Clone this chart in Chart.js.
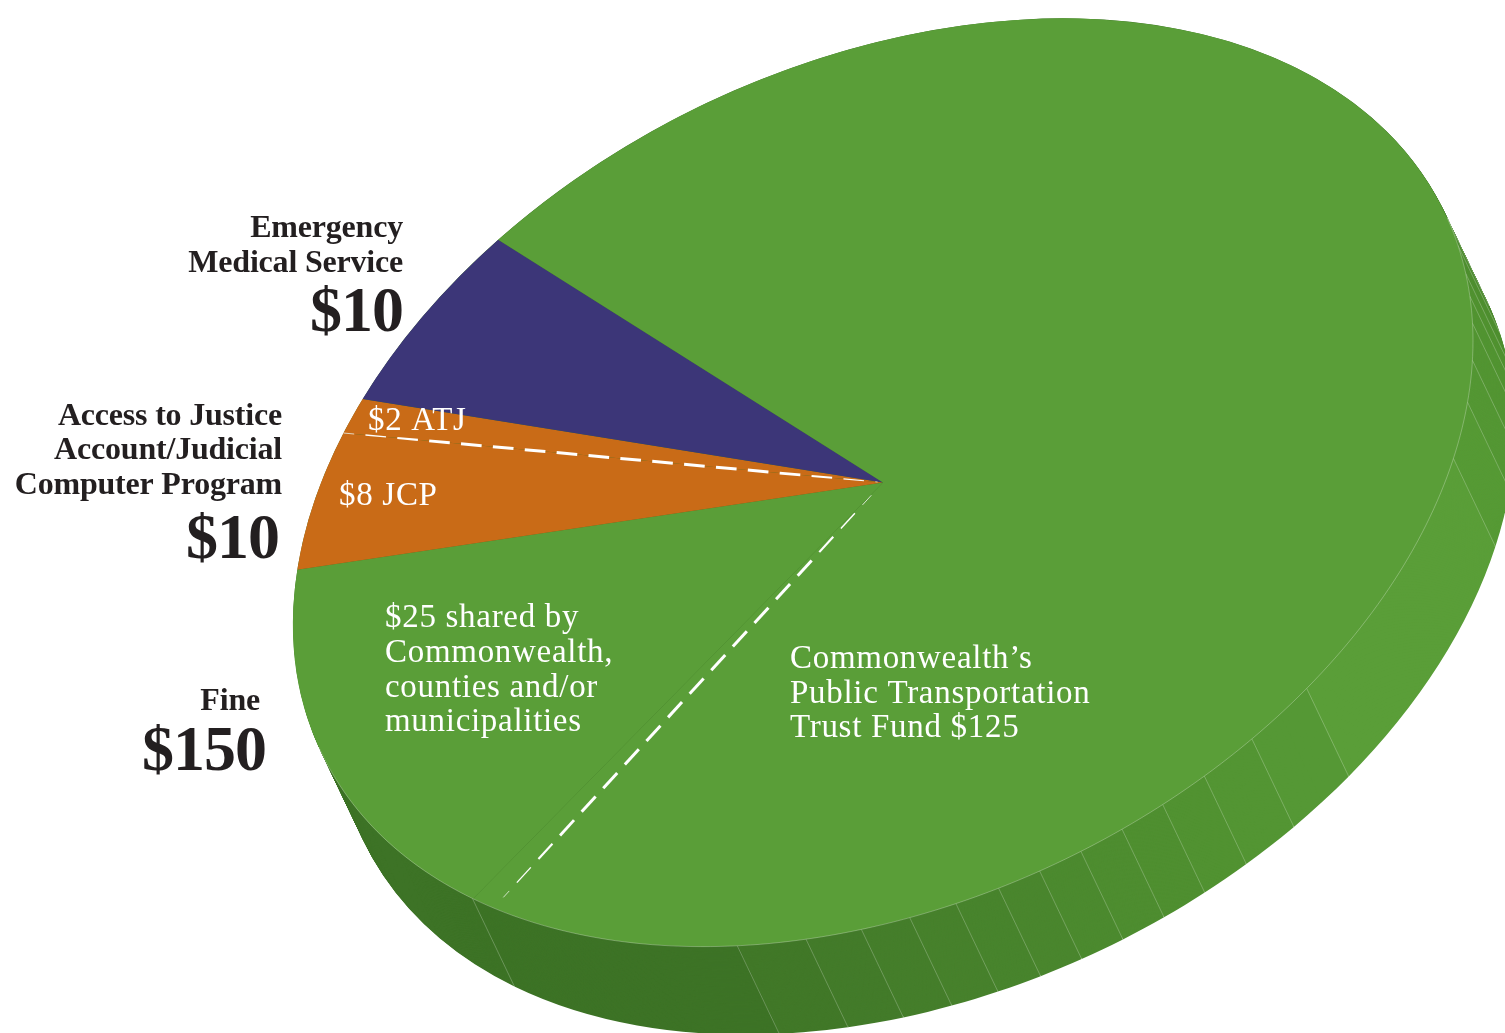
<!DOCTYPE html>
<html>
<head>
<meta charset="utf-8">
<title>Fine breakdown</title>
<script src="https://cdn.jsdelivr.net/npm/chart.js@4"></script>
<style>
  html, body { margin: 0; padding: 0; background: #fff; overflow: hidden; }
  #wrap { position: relative; width: 1505px; height: 1033px; overflow: hidden; }
  canvas { position: absolute; left: 0; top: 0; }
</style>
</head>
<body>
<div id="wrap">
  <canvas id="side" width="1505" height="1033"></canvas>
  <canvas id="top" width="1505" height="1033"></canvas>
</div>
<script>
// Slices, clockwise from the $25 share
const sliceNames = ["Shared by Commonwealth, counties and/or municipalities", "JCP", "ATJ", "Emergency Medical Service", "Public Transportation Trust Fund"];
const sliceValues = [25, 8, 2, 10, 125];
const sliceColors = ["#5a9e38", "#c96b17", "#c96b17", "#3c3678", "#5a9e38"];

// Rim facets: width of each one in degrees, and its shade
const facetWidths = [4, 4, 3.1, 3.6, 4.8, 5.3, 7, 29.3, 7.2, 5.7, 4.7, 4.4, 4.3, 4.2, 4.1, 4.2, 4.5, 4.7, 5.4, 6.8, 29.8, 208.9];
const facetColors = ["#4d8b2f", "#4f8f30", "#519231", "#529432", "#539533", "#549734", "#569a35", "#5a9e38", "#559835", "#539533", "#519231", "#4f8f30", "#4e8d30", "#4c8a2f", "#4a862e", "#48842d", "#47812c", "#457e2b", "#437b2a", "#417828", "#3d7326", "#3d7326"];

// Tilted ellipse the round pie is pressed into
const CX = 883, CY = 482.5;
const AXIS_XX = 590, AXIS_YX = -141.6, AXIS_YY = 442;
const DEPTH_X = 42, DEPTH_Y = 88;
const START_ANGLE = 134;
const FACET_START = -17;
const RIM_LINE_END = 163;
const DASH_ANGLE_FINE = 131.3;

const darkText = "#231f20";
const labels = [
  { text: "Emergency", x: 403, y: 237, size: 32, spacing: -0.2, color: darkText, bold: true, right: true },
  { text: "Medical Service", x: 403, y: 272, size: 32, spacing: -0.2, color: darkText, bold: true, right: true },
  { text: "$10", x: 403, y: 331, size: 64, spacing: -1, color: darkText, bold: true, right: true },
  { text: "Access to Justice", x: 282, y: 425, size: 32, spacing: -0.2, color: darkText, bold: true, right: true },
  { text: "Account/Judicial", x: 282, y: 459, size: 32, spacing: -0.2, color: darkText, bold: true, right: true },
  { text: "Computer Program", x: 282, y: 494, size: 32, spacing: -0.2, color: darkText, bold: true, right: true },
  { text: "$10", x: 279, y: 558, size: 64, spacing: -1, color: darkText, bold: true, right: true },
  { text: "Fine", x: 260, y: 710, size: 32, spacing: -0.2, color: darkText, bold: true, right: true },
  { text: "$150", x: 266, y: 770, size: 64, spacing: -1, color: darkText, bold: true, right: true },
  { text: "$2 ATJ", x: 368, y: 430, size: 33, spacing: 0.7, color: "#fff" },
  { text: "$8 JCP", x: 339, y: 505, size: 33, spacing: 0.7, color: "#fff" },
  { text: "$25 shared by", x: 385, y: 627, size: 33, spacing: 0.7, color: "#fff" },
  { text: "Commonwealth,", x: 385, y: 662, size: 33, spacing: 0.7, color: "#fff" },
  { text: "counties and/or", x: 385, y: 697, size: 33, spacing: 0.7, color: "#fff" },
  { text: "municipalities", x: 385, y: 731, size: 33, spacing: 0.7, color: "#fff" },
  { text: "Commonwealth\u2019s", x: 790, y: 668, size: 33, spacing: 0.7, color: "#fff" },
  { text: "Public Transportation", x: 790, y: 703, size: 33, spacing: 0.7, color: "#fff" },
  { text: "Trust Fund $125", x: 790, y: 737, size: 33, spacing: 0.7, color: "#fff" }
];

function pressEllipse(ctx, arc) {
  const R = arc.outerRadius;
  ctx.transform(AXIS_XX / R, AXIS_YX / R, 0, AXIS_YY / R,
    CX - (AXIS_XX / R) * arc.x,
    CY - (AXIS_YX / R) * arc.x - (AXIS_YY / R) * arc.y);
}

// point on the pressed pie, r = 1 is the rim
function piePoint(deg, r) {
  const a = deg * Math.PI / 180;
  const u = Math.cos(a) * r, v = Math.sin(a) * r;
  return { x: CX + AXIS_XX * u, y: CY + AXIS_YX * u + AXIS_YY * v };
}

// Dashes get thinner toward both ends of the line
function dashedLine(ctx, from, to, lead) {
  const len = Math.hypot(to.x - from.x, to.y - from.y);
  const ux = (to.x - from.x) / len, uy = (to.y - from.y) / len;
  ctx.strokeStyle = "#fff";
  ctx.lineCap = "butt";
  for (let s = lead; s < len; s += 32) {
    const a = Math.max(s, 0), b = Math.min(s + 20.7, len);
    if (b <= a) continue;
    const mid = (a + b) / 2;
    ctx.lineWidth = Math.min(3, 0.6 + 0.024 * Math.min(mid, len - mid));
    ctx.beginPath();
    ctx.moveTo(from.x + ux * a, from.y + uy * a);
    ctx.lineTo(from.x + ux * b, from.y + uy * b);
    ctx.stroke();
  }
}

const rimPlugin = {
  id: "rim",
  beforeDatasetsDraw(chart) {
    const ctx = chart.ctx;
    const arcs = chart.getDatasetMeta(0).data;
    const steps = Math.ceil(Math.hypot(DEPTH_X, DEPTH_Y));
    for (let i = steps; i >= 0; i--) {
      ctx.save();
      ctx.translate(DEPTH_X * i / steps, DEPTH_Y * i / steps);
      pressEllipse(ctx, arcs[0]);
      arcs.forEach(arc => arc.draw(ctx));
      ctx.restore();
    }
    // thin light lines between the facets
    ctx.save();
    ctx.strokeStyle = "rgba(255,255,255,0.3)";
    ctx.lineWidth = 0.8;
    arcs.forEach(arc => {
      const p = piePoint(arc.startAngle * 180 / Math.PI, 1);
      ctx.beginPath();
      ctx.moveTo(p.x, p.y);
      ctx.lineTo(p.x + DEPTH_X, p.y + DEPTH_Y);
      ctx.stroke();
    });
    ctx.restore();
    return false;
  }
};

const topPlugin = {
  id: "topFace",
  beforeDatasetsDraw(chart) {
    chart.ctx.save();
    pressEllipse(chart.ctx, chart.getDatasetMeta(0).data[0]);
  },
  afterDatasetsDraw(chart) {
    const ctx = chart.ctx;
    ctx.restore();

    // light edge where the top face meets the rim
    ctx.save();
    ctx.strokeStyle = "rgba(255,255,255,0.35)";
    ctx.lineWidth = 0.8;
    ctx.beginPath();
    for (let d = FACET_START; d <= RIM_LINE_END; d += 1) {
      const p = piePoint(d, 1);
      if (d === FACET_START) ctx.moveTo(p.x, p.y);
      else ctx.lineTo(p.x, p.y);
    }
    ctx.stroke();

    // dashed split of the orange slice and of the big green part
    const arcs = chart.getDatasetMeta(0).data;
    const atj = arcs[2].startAngle * 180 / Math.PI;
    dashedLine(ctx, piePoint(atj, 1), piePoint(atj, 0.01), -10);
    dashedLine(ctx, piePoint(DASH_ANGLE_FINE, 0.975), piePoint(DASH_ANGLE_FINE, 0.03), -12);

    // all the words
    ctx.textBaseline = "alphabetic";
    labels.forEach(l => {
      ctx.font = (l.bold ? "bold " : "") + l.size + "px 'Liberation Serif'";
      ctx.letterSpacing = l.spacing + "px";
      ctx.fillStyle = l.color;
      ctx.textAlign = l.right ? "right" : "left";
      ctx.fillText(l.text, l.x, l.y);
    });
    ctx.restore();
  }
};

function pieOptions(rotation) {
  return {
    responsive: false,
    animation: false,
    rotation: rotation,
    clip: false,
    events: [],
    layout: { padding: 0 },
    plugins: { legend: { display: false }, tooltip: { enabled: false } }
  };
}

new Chart(document.getElementById("side").getContext("2d"), {
  type: "pie",
  data: {
    labels: facetColors.map((c, i) => "facet " + i),
    datasets: [{ data: facetWidths, backgroundColor: facetColors, borderWidth: 0 }]
  },
  options: pieOptions(FACET_START + 90),
  plugins: [rimPlugin]
});

new Chart(document.getElementById("top").getContext("2d"), {
  type: "pie",
  data: {
    labels: sliceNames,
    datasets: [{ data: sliceValues, backgroundColor: sliceColors, borderWidth: 0 }]
  },
  options: pieOptions(START_ANGLE + 90),
  plugins: [topPlugin]
});
</script>
</body>
</html>
